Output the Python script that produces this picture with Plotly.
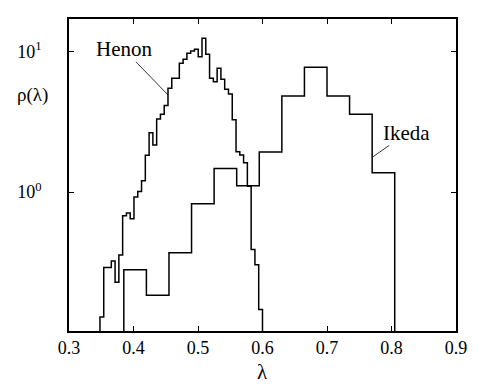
import math
import plotly.graph_objects as go

# Henon histogram (fine bins)
henon_start = 0.348
henon_width = 0.00586
henon_counts = [0.129, 0.290, 0.290, 0.323, 0.2275, 0.356, 0.678, 0.709, 0.646, 0.921,
                1.01, 1.203, 1.83, 2.65, 2.16, 3.31, 3.59, 4.13, 5.49, 6.47,
                6.47, 8.27, 8.83, 9.74, 10.1, 10.4, 9.21, 12.45, 9.58, 6.47,
                6.12, 7.62, 6.36, 5.40, 5.00, 3.27, 1.94, 1.84, 1.62, 1.10,
                0.389, 0.304, 0.1455]

# Ikeda histogram (coarse bins)
ikeda_edges = [0.385, 0.420, 0.455, 0.490, 0.525, 0.560, 0.595, 0.630, 0.665,
               0.700, 0.735, 0.770, 0.805]
ikeda_counts = [0.279, 0.184, 0.370, 0.826, 1.47, 1.11, 1.93, 4.84, 7.75, 4.84, 3.59, 1.37]

x_ticks = [0.3, 0.4, 0.5, 0.6, 0.7, 0.8, 0.9]
y_ticks = [1, 10]
y_ticktext = ["10<sup>0</sup>", "10<sup>1</sup>"]

# label anchor points (data coordinates)
henon_label = (0.385, 10.4)
henon_point = (0.4535, 4.92)
ikeda_label = (0.824, 2.64)
ikeda_point = (0.771, 1.78)

FLOOR = 1e-3
SERIF = "Liberation Serif, Times New Roman, serif"


def step_xy(edges, counts):
    xs = [edges[0]] + list(edges)
    ys = [FLOOR] + list(counts) + [FLOOR]
    return xs, ys


henon_edges = [henon_start + i * henon_width for i in range(len(henon_counts) + 1)]

fig = go.Figure()
for edges, counts in ((henon_edges, henon_counts), (ikeda_edges, ikeda_counts)):
    xs, ys = step_xy(edges, counts)
    fig.add_trace(go.Scatter(x=xs, y=ys, mode="lines", line=dict(color="black", width=1.5, shape="hv"),
                             showlegend=False, hoverinfo="skip"))


def label(text, lab, pt):
    return dict(text=text, x=pt[0], y=math.log10(pt[1]), xref="x", yref="y",
                ax=lab[0], ay=math.log10(lab[1]), axref="x", ayref="y",
                showarrow=True, arrowhead=0, arrowwidth=0.8, arrowcolor="black",
                standoff=0, font=dict(size=21), borderpad=0)


fig.update_layout(
    width=478, height=388,
    margin=dict(l=69, r=22, t=19, b=57),
    paper_bgcolor="white", plot_bgcolor="white",
    font=dict(family=SERIF, color="black", size=17),
    xaxis=dict(range=[0.3, 0.9], tickvals=x_ticks, ticktext=[f"{v:.1f}" for v in x_ticks],
               ticks="inside", ticklen=5, tickwidth=1, tickcolor="black",
               showline=True, linecolor="black", linewidth=1.5, mirror="ticks",
               showgrid=False, zeroline=False, tickfont=dict(size=18)),
    yaxis=dict(type="log", range=[-0.99, 1.233], tickvals=y_ticks, ticktext=y_ticktext,
               ticks="inside", ticklen=5, tickwidth=1, tickcolor="black",
               showline=True, linecolor="black", linewidth=1.5, mirror="ticks",
               showgrid=False, zeroline=False, tickfont=dict(size=18), ticklabelstandoff=22),
    annotations=[
        dict(text="λ", xref="paper", yref="paper", x=0.5, y=-0.085, xanchor="center", yanchor="top",
             showarrow=False, font=dict(size=21)),
        dict(text="ρ(λ)", xref="paper", yref="paper", x=-0.095, y=0.755, xanchor="center", yanchor="middle",
             showarrow=False, font=dict(size=19)),
        label("Henon", henon_label, henon_point),
        label("Ikeda", ikeda_label, ikeda_point),
    ],
)
fig.write_html("out.html")
